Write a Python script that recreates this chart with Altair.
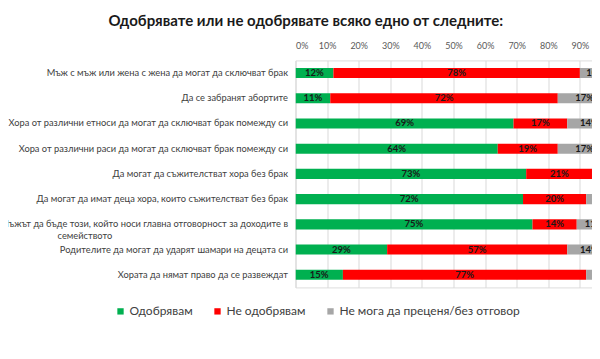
import json
import altair as alt
import pandas as pd

items = [
    "Мъж с мъж или жена с жена да могат да сключват брак",
    "Да се забранят абортите",
    "Хора от различни етноси да могат да сключват брак помежду си",
    "Хора от различни раси да могат да сключват брак помежду си",
    "Да могат да съжителстват хора без брак",
    "Да могат да имат деца хора, които съжителстват без брак",
    "Мъжът да бъде този, който носи главна отговорност за доходите в семейството",
    "Родителите да могат да ударят шамари на децата си",
    "Хората да нямат право да се развеждат",
]
approve = [12, 11, 69, 64, 73, 72, 75, 29, 15]
disapprove = [78, 72, 17, 19, 21, 20, 14, 57, 77]
no_answer = [10, 17, 14, 17, 6, 8, 11, 14, 8]
categories = ["Одобрявам", "Не одобрявам", "Не мога да преценя/без отговор"]
colors = ["#00B050", "#FF0000", "#A6A6A6"]
tick_values = [0, 0.1, 0.2, 0.3, 0.4, 0.5, 0.6, 0.7, 0.8, 0.9]
title_text = "Одобрявате или не одобрявате всяко едно от следните:"

rows = []
for i, it in enumerate(items):
    for k, vals in enumerate([approve, disapprove, no_answer]):
        rows.append({"item": it, "cat": categories[k], "order": k, "value": vals[i] / 100})
df = pd.DataFrame(rows)

long_label = items[6]
cut = long_label.rfind(" ")
l1, l2 = long_label[:cut], long_label[cut + 1:] + "\u00a0" * 74 + "\u200b"
label_expr = (
    f"datum.label == {json.dumps(long_label, ensure_ascii=False)} ? "
    f"[{json.dumps(l1, ensure_ascii=False)}, {json.dumps(l2, ensure_ascii=False)}] : datum.label"
)

FONT = "Lato"
PLOT_W = 296.5
x_scale = alt.Scale(domain=[0, PLOT_W / 316], nice=False, zero=True)
y_scale = alt.Scale(paddingInner=0.6, paddingOuter=0.3)

x_axis = alt.Axis(
    orient="top", format=".0%", values=tick_values, grid=True,
    gridColor="#D9D9D9", domain=False, ticks=False, labelColor="#595959",
    labelFontSize=9, labelPadding=10, labelFont=FONT, labelOverlap=False,
)
y_axis = alt.Axis(
    domain=False, ticks=False, labelPadding=8, labelFontSize=9.3,
    labelColor="#404040", labelLimit=0, labelFont=FONT, labelExpr=label_expr,
)

base = alt.Chart(df).transform_stack(
    stack="value", groupby=["item"], as_=["x0", "x1"], sort=[alt.SortField("order")]
).transform_calculate(mid="(datum.x0 + datum.x1) / 2")

bars = base.mark_bar(clip=True).encode(
    x=alt.X("x0:Q", scale=x_scale, title=None, axis=x_axis),
    x2="x1:Q",
    y=alt.Y("item:N", sort=items, title=None, scale=y_scale, axis=y_axis),
    color=alt.Color(
        "cat:N",
        scale=alt.Scale(domain=categories, range=colors),
        legend=alt.Legend(
            title=None, orient="none", legendX=-181, legendY=245, direction="horizontal",
            symbolType="square", symbolSize=40, symbolStrokeWidth=0, labelFontSize=12,
            labelColor="#404040", labelFont=FONT, columnPadding=18, labelOffset=3,
            labelLimit=400,
        ),
    ),
    order=alt.Order("order:Q"),
)

labels = base.mark_text(
    fontSize=9.5, fontWeight="bold", color="#1a1a1a", baseline="middle", align="center", font=FONT
).encode(
    x=alt.X("mid:Q", scale=x_scale, title=None, axis=x_axis),
    y=alt.Y("item:N", sort=items, title=None, scale=y_scale, axis=y_axis),
    text=alt.Text("value:Q", format=".0%"),
)

chart = alt.layer(bars, labels).properties(
    width=PLOT_W,
    height=227,
    padding={"left": 287.5, "top": 52.4, "right": 0, "bottom": 36},
    autosize=alt.AutoSizeParams(type="none"),
    title=alt.TitleParams(
        title_text, fontSize=15, fontWeight="bold", color="#1a1a1a", font=FONT,
        anchor="middle", dx=-138, offset=12,
    ),
).configure_view(stroke=None).configure_axis(labelOverlap=False).configure(background="white")

chart.save("out.html", embed_options={"renderer": "svg", "actions": False})
